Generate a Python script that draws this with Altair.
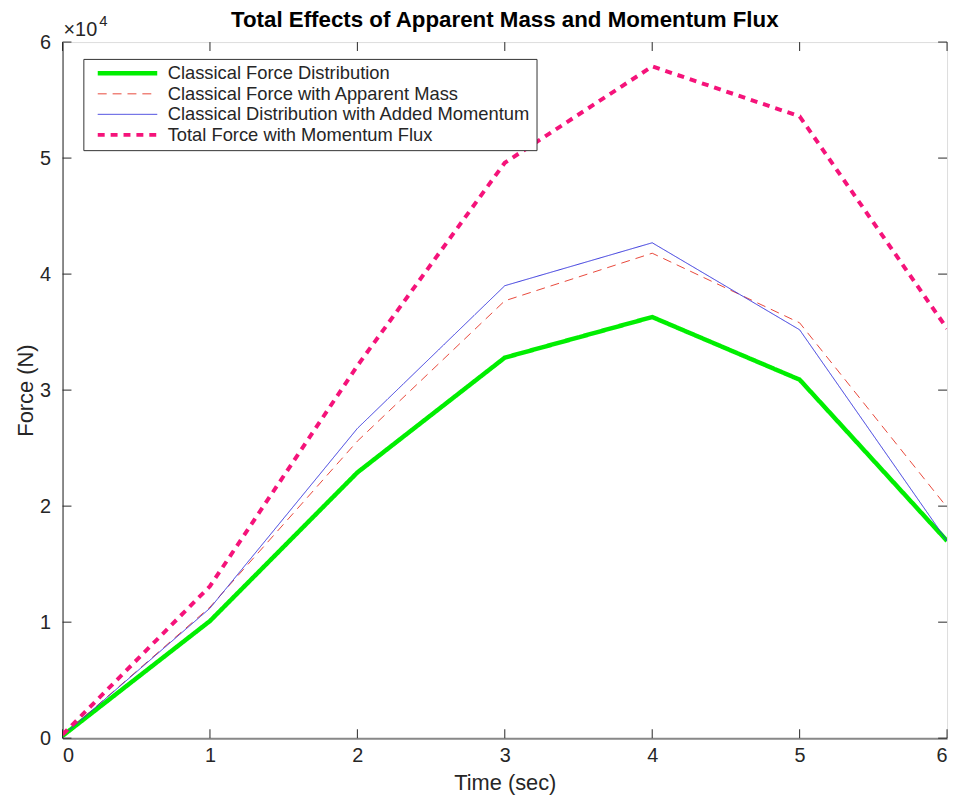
import altair as alt
import pandas as pd

time = [0, 1, 2, 3, 4, 5, 6]
classical = [200, 10100, 22900, 32800, 36300, 30900, 17000]
apparent_mass = [200, 11300, 25600, 37700, 41800, 35800, 19900]
added_momentum = [200, 11200, 26700, 39000, 42700, 35200, 17000]
total_flux = [300, 13100, 32100, 49600, 57900, 53600, 35300]

series_names = [
    "Classical Force Distribution",
    "Classical Force with Apparent Mass",
    "Classical Distribution with Added Momentum",
    "Total Force with Momentum Flux",
]
series_colors = ["#00EE00", "#E8473A", "#3434DC", "#F5137A"]
series_dash = [[1, 0], [9, 6], [1, 0], [7, 6]]
series_width = [4.5, 1, 1, 4]

x_ticks = [0, 1, 2, 3, 4, 5, 6]
y_ticks = [0, 10000, 20000, 30000, 40000, 50000, 60000]

rows = []
for name, vals in zip(series_names, [classical, apparent_mass, added_momentum, total_flux]):
    for t, v in zip(time, vals):
        rows.append({"time": t, "force": v, "series": name})
df = pd.DataFrame(rows)

W, H = 892, 702
FONT = "Liberation Sans"
TXT = "#262626"

xscale = alt.Scale(domain=[0, 6], nice=False, zero=False)
yscale = alt.Scale(domain=[0, 60000], nice=False)

legend = alt.Legend(
    title=None, orient="none", legendX=21, legendY=17,
    strokeColor="#333333", fillColor="#ffffff", padding=5,
    labelFontSize=18.5, labelFont=FONT, labelColor=TXT, labelLimit=0,
    symbolType="stroke", symbolSize=3600, symbolOffset=7,
    clipHeight=19, rowPadding=1.7, labelOffset=8,
)

lines = alt.Chart(df).mark_line(clip=True).encode(
    x=alt.X("time:Q", scale=xscale,
            axis=alt.Axis(values=x_ticks, format="d", title="Time (sec)", tickSize=0, grid=False,
                          labelFontSize=20, titleFontSize=22, labelColor=TXT, titleColor=TXT,
                          labelFont=FONT, titleFont=FONT, titleFontWeight="normal",
                          domainColor="#888888", domainWidth=2, labelPadding=8, titlePadding=7)),
    y=alt.Y("force:Q", scale=yscale,
            axis=alt.Axis(values=y_ticks, title="Force (N)", tickSize=0, grid=False,
                          labelExpr="datum.value / 10000",
                          labelFontSize=20, titleFontSize=22, labelColor=TXT, titleColor=TXT,
                          labelFont=FONT, titleFont=FONT, titleFontWeight="normal",
                          domainColor=TXT, labelPadding=12, titlePadding=2)),
    color=alt.Color("series:N", scale=alt.Scale(domain=series_names, range=series_colors),
                    sort=series_names, legend=legend),
    strokeDash=alt.StrokeDash("series:N", scale=alt.Scale(domain=series_names, range=series_dash),
                              sort=series_names, legend=legend),
    strokeWidth=alt.StrokeWidth("series:N",
                                scale=alt.Scale(type="ordinal", domain=series_names, range=series_width),
                                sort=series_names, legend=legend),
    order=alt.Order("time:Q"),
)

xt = pd.DataFrame({"v": x_ticks})
yt = pd.DataFrame({"v": y_ticks})
tick_color = "#262626"
xb = alt.Chart(xt).mark_rule(color=tick_color, strokeWidth=1).encode(
    x=alt.X("v:Q", scale=xscale), y=alt.value(H), y2=alt.value(H - 9))
xtop = alt.Chart(xt).mark_rule(color=tick_color, strokeWidth=1).encode(
    x=alt.X("v:Q", scale=xscale), y=alt.value(0), y2=alt.value(9))
yl = alt.Chart(yt).mark_rule(color=tick_color, strokeWidth=1).encode(
    y=alt.Y("v:Q", scale=yscale), x=alt.value(0), x2=alt.value(9))
yr = alt.Chart(yt).mark_rule(color=tick_color, strokeWidth=1).encode(
    y=alt.Y("v:Q", scale=yscale), x=alt.value(W), x2=alt.value(W - 9))

mult = alt.Chart(pd.DataFrame({"t": ["\u00d710"]})).mark_text(
    align="left", baseline="alphabetic", fontSize=20, font=FONT, color=TXT
).encode(text="t:N", x=alt.value(1), y=alt.value(-6))
expo = alt.Chart(pd.DataFrame({"t": ["4"]})).mark_text(
    align="left", baseline="alphabetic", fontSize=15, font=FONT, color=TXT
).encode(text="t:N", x=alt.value(37), y=alt.value(-16))
title = alt.Chart(pd.DataFrame({"t": ["Total Effects of Apparent Mass and Momentum Flux"]})).mark_text(
    align="center", baseline="alphabetic", fontSize=22.5, font=FONT, fontWeight="bold", color="#000000"
).encode(text="t:N", x=alt.value(W / 2), y=alt.value(-15))

chart = alt.layer(lines, xb, xtop, yl, yr, mult, expo, title).properties(
    width=W, height=H,
    autosize=alt.AutoSizeParams(type="none"),
    padding={"left": 55, "top": 31, "right": 6, "bottom": 60},
).configure_view(
    stroke="#555555", strokeWidth=1
).configure(background="#ffffff")

chart.save("out.html", embed_options={"renderer": "svg", "actions": False})
